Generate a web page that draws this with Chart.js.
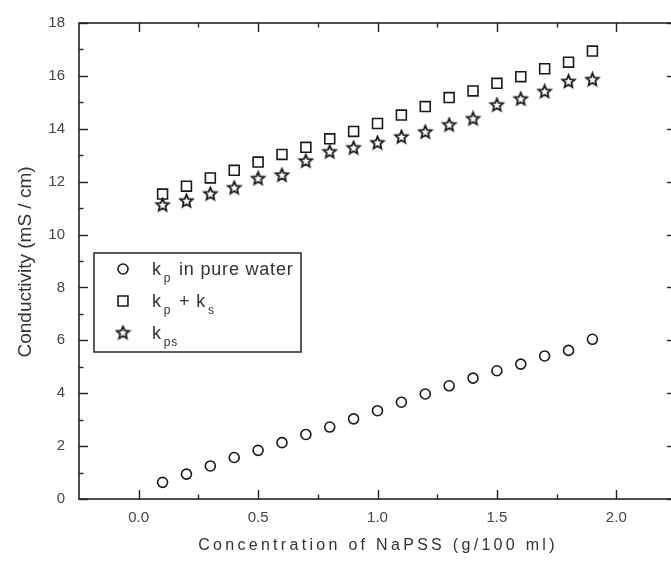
<!DOCTYPE html>
<html>
<head>
<meta charset="utf-8">
<script src="https://cdn.jsdelivr.net/npm/chart.js@4/dist/chart.umd.min.js"></script>
<style>
  html, body { margin: 0; padding: 0; background: #fff; overflow: hidden; }
  #wrap { width: 700px; height: 565px; }
</style>
</head>
<body>
<div id="wrap"><canvas id="chart" width="700" height="565"></canvas></div>
<script>
// concentration of NaPSS (g/100 ml)
const concentration = [0.1, 0.2, 0.3, 0.4, 0.5, 0.6, 0.7, 0.8, 0.9, 1.0, 1.1, 1.2, 1.3, 1.4, 1.5, 1.6, 1.7, 1.8, 1.9];
// conductivity (mS / cm)
const kpPureWater = [0.63, 0.94, 1.25, 1.57, 1.84, 2.13, 2.44, 2.72, 3.03, 3.34, 3.66, 3.97, 4.28, 4.57, 4.85, 5.10, 5.41, 5.62, 6.04];
const kpPlusKs = [11.53, 11.83, 12.14, 12.43, 12.74, 13.03, 13.30, 13.62, 13.90, 14.20, 14.52, 14.84, 15.18, 15.43, 15.72, 15.97, 16.27, 16.52, 16.94];
const kps = [11.11, 11.26, 11.53, 11.76, 12.11, 12.24, 12.77, 13.12, 13.27, 13.46, 13.68, 13.87, 14.14, 14.37, 14.89, 15.12, 15.40, 15.78, 15.85];

const xMajorTicks = [0, 0.5, 1.0, 1.5, 2.0];
const xMinorTicks = [0.25, 0.75, 1.25, 1.75];
const yMajorTicks = [0, 2, 4, 6, 8, 10, 12, 14, 16, 18];
const yMinorTicks = [1, 3, 5, 7, 9, 11, 13, 15, 17];

const FONT = "'Liberation Sans', Arial, sans-serif";
const INK = "#1a1a1a";

function makeStar(size) {
  let c = document.createElement("canvas");
  c.width = size;
  c.height = size;
  let g = c.getContext("2d");
  g.translate(size / 2, size / 2);
  g.beginPath();
  for (let i = 0; i < 10; i++) {
    let r = i % 2 === 0 ? 6.6 : 3.0;
    let a = -Math.PI / 2 + i * Math.PI / 5;
    let px = r * Math.cos(a), py = r * Math.sin(a);
    if (i === 0) g.moveTo(px, py); else g.lineTo(px, py);
  }
  g.closePath();
  g.lineWidth = 1.8;
  g.strokeStyle = INK;
  g.stroke();
  return c;
}
const starImg = makeStar(17);

function toPoints(ys) {
  return concentration.map((x, i) => ({ x: x, y: ys[i] }));
}

const series = [
  { label: "kp in pure water", data: toPoints(kpPureWater), pointStyle: "circle", pointRadius: 5, sub: ["p"], text: [" in pure water"] },
  { label: "kp + ks", data: toPoints(kpPlusKs), pointStyle: "rect", pointRadius: 7, sub: ["p", "s"], text: [" + k", ""] },
  { label: "kps", data: toPoints(kps), pointStyle: starImg, pointRadius: 7, sub: ["ps"], text: [""] }
];

// inward tick marks, frame, axis titles and legend
const decorations = {
  id: "decorations",
  afterDatasetsDraw(chart) {
    const { ctx, chartArea: a, scales } = chart;
    ctx.save();
    ctx.strokeStyle = "#222";
    ctx.lineWidth = 1.6;
    ctx.strokeRect(a.left, a.top, a.right - a.left, a.bottom - a.top);

    ctx.lineWidth = 1.4;
    function tick(x1, y1, x2, y2) {
      ctx.beginPath(); ctx.moveTo(x1, y1); ctx.lineTo(x2, y2); ctx.stroke();
    }
    xMajorTicks.forEach(v => {
      let px = Math.round(scales.x.getPixelForValue(v)) + 0.5;
      tick(px, a.bottom, px, a.bottom - 9);
      tick(px, a.top, px, a.top + 9);
    });
    xMinorTicks.forEach(v => {
      let px = Math.round(scales.x.getPixelForValue(v)) + 0.5;
      tick(px, a.bottom, px, a.bottom - 4.5);
      tick(px, a.top, px, a.top + 4.5);
    });
    yMajorTicks.forEach(v => {
      let py = Math.round(scales.y.getPixelForValue(v)) + 0.5;
      tick(a.left, py, a.left + 9, py);
      tick(a.right, py, a.right - 9, py);
    });
    yMinorTicks.forEach(v => {
      let py = Math.round(scales.y.getPixelForValue(v)) + 0.5;
      tick(a.left, py, a.left + 4.5, py);
      tick(a.right, py, a.right - 4.5, py);
    });

    // axis titles
    ctx.fillStyle = "#333";
    ctx.textAlign = "center";
    ctx.textBaseline = "middle";
    ctx.font = "16px " + FONT;
    ctx.letterSpacing = "3.3px";
    ctx.fillText("Concentration of NaPSS (g/100 ml)", 378, 546);
    ctx.letterSpacing = "0px";
    ctx.save();
    ctx.translate(26, 262);
    ctx.rotate(-Math.PI / 2);
    ctx.font = "19px " + FONT;
    ctx.fillText("Conductivity (mS / cm)", 0, 0);
    ctx.restore();

    // legend box
    ctx.strokeStyle = "#333";
    ctx.lineWidth = 1.6;
    ctx.strokeRect(94, 253, 207, 99);
    series.forEach((s, i) => {
      let cy = 269 + i * 32;
      ctx.strokeStyle = INK;
      ctx.fillStyle = "rgba(0,0,0,0)";
      ctx.lineWidth = 1.6;
      if (s.pointStyle === starImg) {
        ctx.drawImage(starImg, 123 - 8.5, cy - 8.5);
      } else {
        Chart.helpers.drawPoint(ctx, { pointStyle: s.pointStyle, radius: s.pointRadius, borderWidth: 1.6, rotation: 0 }, 123, cy);
      }
      ctx.fillStyle = "#333";
      ctx.textAlign = "left";
      ctx.textBaseline = "alphabetic";
      let x = 152;
      for (let j = 0; j < s.sub.length; j++) {
        ctx.font = "18px " + FONT;
        ctx.letterSpacing = "0.8px";
        let pre = j === 0 ? "k" : "";
        if (pre) { ctx.fillText(pre, x, cy + 6); x += ctx.measureText(pre).width + 2; }
        ctx.font = "12px " + FONT;
        ctx.fillText(s.sub[j], x, cy + 13);
        x += ctx.measureText(s.sub[j]).width + 2;
        ctx.font = "18px " + FONT;
        ctx.fillText(s.text[j], x, cy + 6);
        x += ctx.measureText(s.text[j]).width + 2;
      }
      ctx.letterSpacing = "0px";
    });
    ctx.restore();
  }
};

new Chart(document.getElementById("chart").getContext("2d"), {
  type: "scatter",
  data: {
    datasets: series.map(s => ({
      label: s.label,
      data: s.data,
      showLine: false,
      pointStyle: s.pointStyle,
      pointRadius: s.pointRadius,
      pointBorderWidth: 1.6,
      pointBorderColor: INK,
      pointBackgroundColor: "rgba(0,0,0,0)"
    }))
  },
  options: {
    responsive: false,
    animation: false,
    layout: { padding: { top: 20, right: 24, left: 0, bottom: 0 } },
    plugins: { legend: { display: false }, tooltip: { enabled: false } },
    scales: {
      x: {
        type: "linear",
        min: -0.25,
        max: 2.25,
        afterFit: s => { s.height = 66; },
        afterBuildTicks: s => { s.ticks = xMajorTicks.map(v => ({ value: v })); },
        grid: { display: false, drawTicks: false },
        border: { display: false },
        ticks: {
          padding: 10,
          color: "#444",
          font: { family: FONT, size: 15 },
          callback: v => Number(v).toFixed(1)
        }
      },
      y: {
        type: "linear",
        min: 0,
        max: 18,
        afterFit: s => { s.width = 79; },
        afterBuildTicks: s => { s.ticks = yMajorTicks.map(v => ({ value: v })); },
        grid: { display: false, drawTicks: false },
        border: { display: false },
        ticks: {
          padding: 14,
          color: "#444",
          font: { family: FONT, size: 15 },
          callback: v => String(v)
        }
      }
    }
  },
  plugins: [decorations]
});
</script>
</body>
</html>
